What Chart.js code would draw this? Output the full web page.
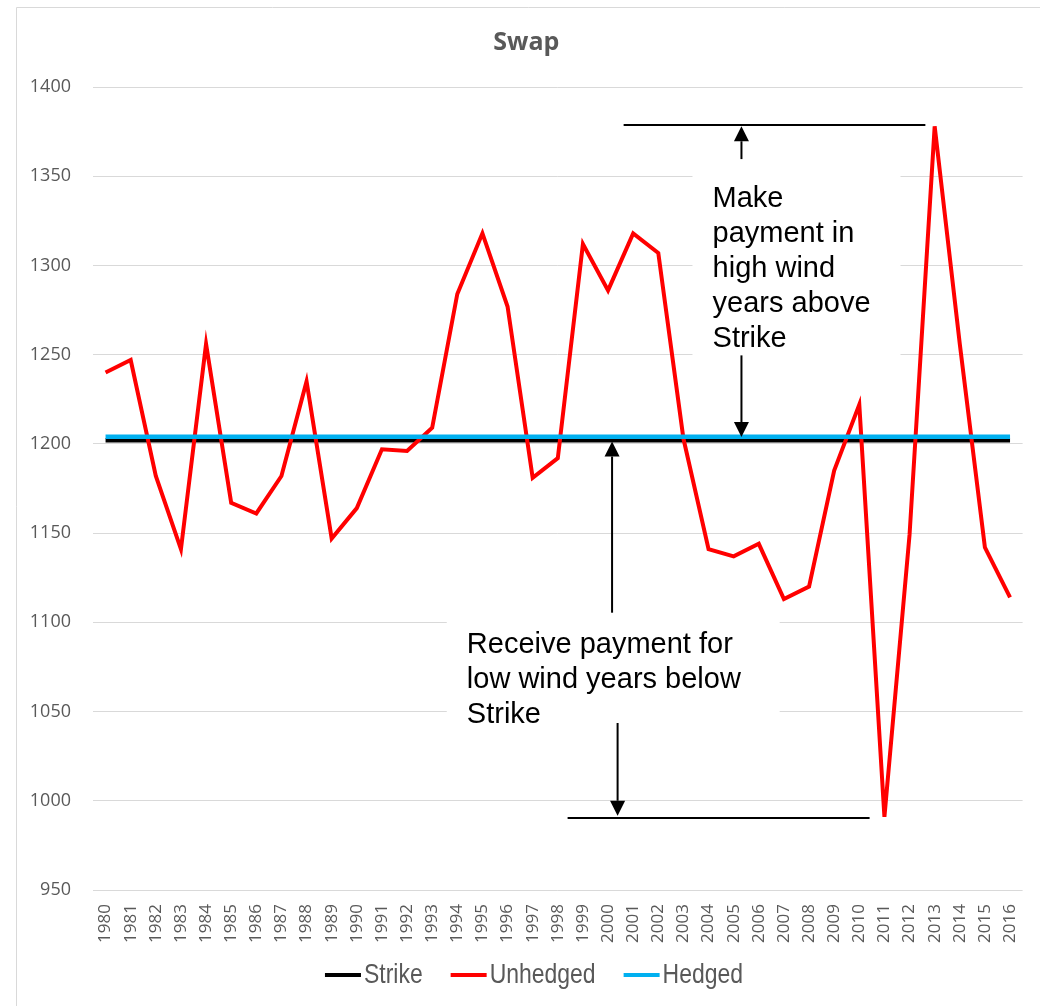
<!DOCTYPE html>
<html>
<head>
<meta charset="utf-8">
<script src="https://cdn.jsdelivr.net/npm/chart.js@4.4.1/dist/chart.umd.min.js"></script>
<style>
  html, body { margin: 0; padding: 0; background: #fff; }
  #wrap { width: 1040px; height: 1006px; }
</style>
</head>
<body>
<div id="wrap"><canvas id="swap"></canvas></div>
<script>
'use strict';

// ── Datos ─────────────────────────────────────────────────────────────────────

const years = [
  '1980', '1981', '1982', '1983', '1984', '1985', '1986', '1987', '1988', '1989',
  '1990', '1991', '1992', '1993', '1994', '1995', '1996', '1997', '1998', '1999',
  '2000', '2001', '2002', '2003', '2004', '2005', '2006', '2007', '2008', '2009',
  '2010', '2011', '2012', '2013', '2014', '2015', '2016',
];

const unhedged = [
  1240, 1247, 1182, 1141, 1256, 1167, 1161, 1182, 1235, 1147,
  1164, 1197, 1196, 1209, 1284, 1318, 1277, 1181, 1192, 1312,
  1286, 1318, 1307, 1203, 1141, 1137, 1144, 1113, 1120, 1185,
  1222, 991, 1149, 1378, 1256, 1142, 1114,
];

const strike = [
  1202, 1202, 1202, 1202, 1202, 1202, 1202, 1202, 1202, 1202,
  1202, 1202, 1202, 1202, 1202, 1202, 1202, 1202, 1202, 1202,
  1202, 1202, 1202, 1202, 1202, 1202, 1202, 1202, 1202, 1202,
  1202, 1202, 1202, 1202, 1202, 1202, 1202,
];

const hedged = [
  1204, 1204, 1204, 1204, 1204, 1204, 1204, 1204, 1204, 1204,
  1204, 1204, 1204, 1204, 1204, 1204, 1204, 1204, 1204, 1204,
  1204, 1204, 1204, 1204, 1204, 1204, 1204, 1204, 1204, 1204,
  1204, 1204, 1204, 1204, 1204, 1204, 1204,
];

const yMin = 950, yMax = 1400, yStep = 50;

// ── Anotaciones (en unidades de los ejes: índice de año / valor) ──────────────

const noteBoxes = [
  { i0: 23.36, i1: 31.64, v0: 1370, v1: 1246 },
  { i0: 13.58, i1: 26.83, v0: 1109, v1: 1003 },
];
const noteRules = [
  { i0: 20.62, i1: 32.63, v: 1378.5 },
  { i0: 18.39, i1: 30.41, v: 990.3 },
];
const noteArrows = [
  { i: 25.31, from: 1359.6, to: 1378 },
  { i: 25.31, from: 1249.6, to: 1203.8 },
  { i: 20.16, from: 1105.4, to: 1201.3 },
  { i: 20.38, from: 1043.6, to: 991.6 },
];
const noteTexts = [
  { i: 24.16, v: 1333.0, lines: ['Make', 'payment in', 'high wind', 'years above', 'Strike'] },
  { i: 14.38, v: 1083.0, lines: ['Receive payment for', 'low wind years below', 'Strike'] },
];

const GREY = '#595959';
const GRID = '#d9d9d9';

// ── Plugins ───────────────────────────────────────────────────────────────────

const chartFrame = {
  id: 'chartFrame',
  beforeDraw(chart) {
    const ctx = chart.ctx;
    ctx.save();
    ctx.strokeStyle = GRID;
    ctx.lineWidth = 1;
    ctx.beginPath();
    ctx.moveTo(16.5, chart.height);
    ctx.lineTo(16.5, 7.5);
    ctx.lineTo(chart.width, 7.5);
    ctx.stroke();
    ctx.restore();
  },
};

function drawArrow(ctx, x, y0, y1) {
  const dir = Math.sign(y1 - y0);
  const head = 15;
  ctx.beginPath(); ctx.moveTo(x, y0); ctx.lineTo(x, y1 - dir * head); ctx.stroke();
  ctx.beginPath();
  ctx.moveTo(x, y1);
  ctx.lineTo(x - 7.5, y1 - dir * head);
  ctx.lineTo(x + 7.5, y1 - dir * head);
  ctx.closePath(); ctx.fill();
}

const swapNotes = {
  id: 'swapNotes',
  beforeDatasetsDraw(chart) {
    const { ctx, scales: { x, y } } = chart;
    ctx.save();
    ctx.fillStyle = '#ffffff';
    noteBoxes.forEach(b => {
      const x0 = x.getPixelForValue(b.i0), x1 = x.getPixelForValue(b.i1);
      const y0 = y.getPixelForValue(b.v0), y1 = y.getPixelForValue(b.v1);
      ctx.fillRect(x0, y0, x1 - x0, y1 - y0);
    });
    ctx.restore();
  },
  afterDatasetsDraw(chart) {
    const { ctx, scales: { x, y } } = chart;
    ctx.save();
    ctx.strokeStyle = '#000'; ctx.fillStyle = '#000'; ctx.lineWidth = 2;
    noteRules.forEach(r => {
      const py = Math.round(y.getPixelForValue(r.v));
      ctx.beginPath();
      ctx.moveTo(x.getPixelForValue(r.i0), py);
      ctx.lineTo(x.getPixelForValue(r.i1), py);
      ctx.stroke();
    });
    noteArrows.forEach(a => {
      drawArrow(ctx, x.getPixelForValue(a.i), y.getPixelForValue(a.from), y.getPixelForValue(a.to));
    });
    ctx.font = '29px "Liberation Sans", Arial, sans-serif';
    ctx.textAlign = 'left';
    ctx.textBaseline = 'alphabetic';
    noteTexts.forEach(t => {
      const px = x.getPixelForValue(t.i);
      const py = y.getPixelForValue(t.v);
      t.lines.forEach((line, k) => ctx.fillText(line, px, py + k * 35.2));
    });
    ctx.restore();
  },
};

const legendRow = {
  id: 'legendRow',
  afterDraw(chart) {
    const ctx = chart.ctx;
    ctx.save();
    const narrowFont = '28px "Liberation Sans Narrow", "Liberation Sans", Arial, sans-serif';
    const wideFont = '28px "Liberation Sans", Arial, sans-serif';
    ctx.font = narrowFont;
    const wNarrow = ctx.measureText('Unhedged').width;
    ctx.font = wideFont;
    const wWide = ctx.measureText('Unhedged').width;
    const narrowOk = wNarrow < wWide * 0.9;
    const squeeze = narrowOk ? 1 : 0.82;
    ctx.font = narrowOk ? narrowFont : wideFont;

    const items = chart.data.datasets.map(d => ({ text: d.label, color: d.borderColor }));
    const lineW = 36, gap = 3, spacing = 28;
    items.forEach(it => { it.w = ctx.measureText(it.text).width * squeeze; });
    const total = items.reduce((s, it) => s + lineW + gap + it.w, 0) + spacing * (items.length - 1);
    let cx = 534 - total / 2;
    const cy = 975;
    ctx.textBaseline = 'middle';
    ctx.textAlign = 'left';
    items.forEach(it => {
      ctx.strokeStyle = it.color; ctx.lineWidth = 4;
      ctx.beginPath(); ctx.moveTo(cx, cy); ctx.lineTo(cx + lineW, cy); ctx.stroke();
      ctx.fillStyle = GREY;
      ctx.save();
      ctx.translate(cx + lineW + gap, cy);
      ctx.scale(squeeze, 1);
      ctx.fillText(it.text, 0, 0);
      ctx.restore();
      cx += lineW + gap + it.w + spacing;
    });
    ctx.restore();
  },
};

// ── Gráfico ───────────────────────────────────────────────────────────────────

new Chart(document.getElementById('swap'), {
  type: 'line',
  data: {
    labels: years,
    datasets: [
      { label: 'Strike',   data: strike,   borderColor: '#000000', borderWidth: 4.5, order: 3 },
      { label: 'Unhedged', data: unhedged, borderColor: '#ff0000', borderWidth: 4,   order: 2 },
      { label: 'Hedged',   data: hedged,   borderColor: '#00b0f0', borderWidth: 4.5, order: 1 },
    ],
  },
  options: {
    responsive: true,
    maintainAspectRatio: false,
    animation: false,
    devicePixelRatio: 1,
    elements: { point: { radius: 0, hoverRadius: 0 }, line: { tension: 0, borderCapStyle: 'butt' } },
    layout: { padding: { top: 0, left: 30, right: 17.4, bottom: 56 } },
    plugins: {
      legend: { display: false },
      tooltip: { enabled: false },
      title: {
        display: true,
        text: 'Swap',
        color: GREY,
        font: { family: '"Open Sans", sans-serif', size: 25, weight: 'bold', lineHeight: 1.2 },
        padding: { top: 28, bottom: 29 },
      },
    },
    scales: {
      x: {
        offset: true,
        grid: { display: false, drawTicks: false, tickLength: 0, offset: true },
        border: { display: false },
        ticks: {
          color: GREY,
          font: { family: '"Open Sans", sans-serif', size: 17 },
          minRotation: 90, maxRotation: 90,
          autoSkip: false,
          padding: 14,
        },
        afterFit: s => { s.height = 60; s.paddingLeft = 0; s.paddingRight = 0; },
      },
      y: {
        min: yMin, max: yMax,
        grid: { color: GRID, lineWidth: 1, drawTicks: false, tickLength: 0 },
        border: { display: false },
        ticks: {
          stepSize: yStep,
          color: GREY,
          font: { family: '"Open Sans", sans-serif', size: 18 },
          padding: 22,
          callback: v => String(v),
        },
        afterFit: s => { s.width = 63; },
      },
    },
  },
  plugins: [chartFrame, swapNotes, legendRow],
});
</script>
</body>
</html>
